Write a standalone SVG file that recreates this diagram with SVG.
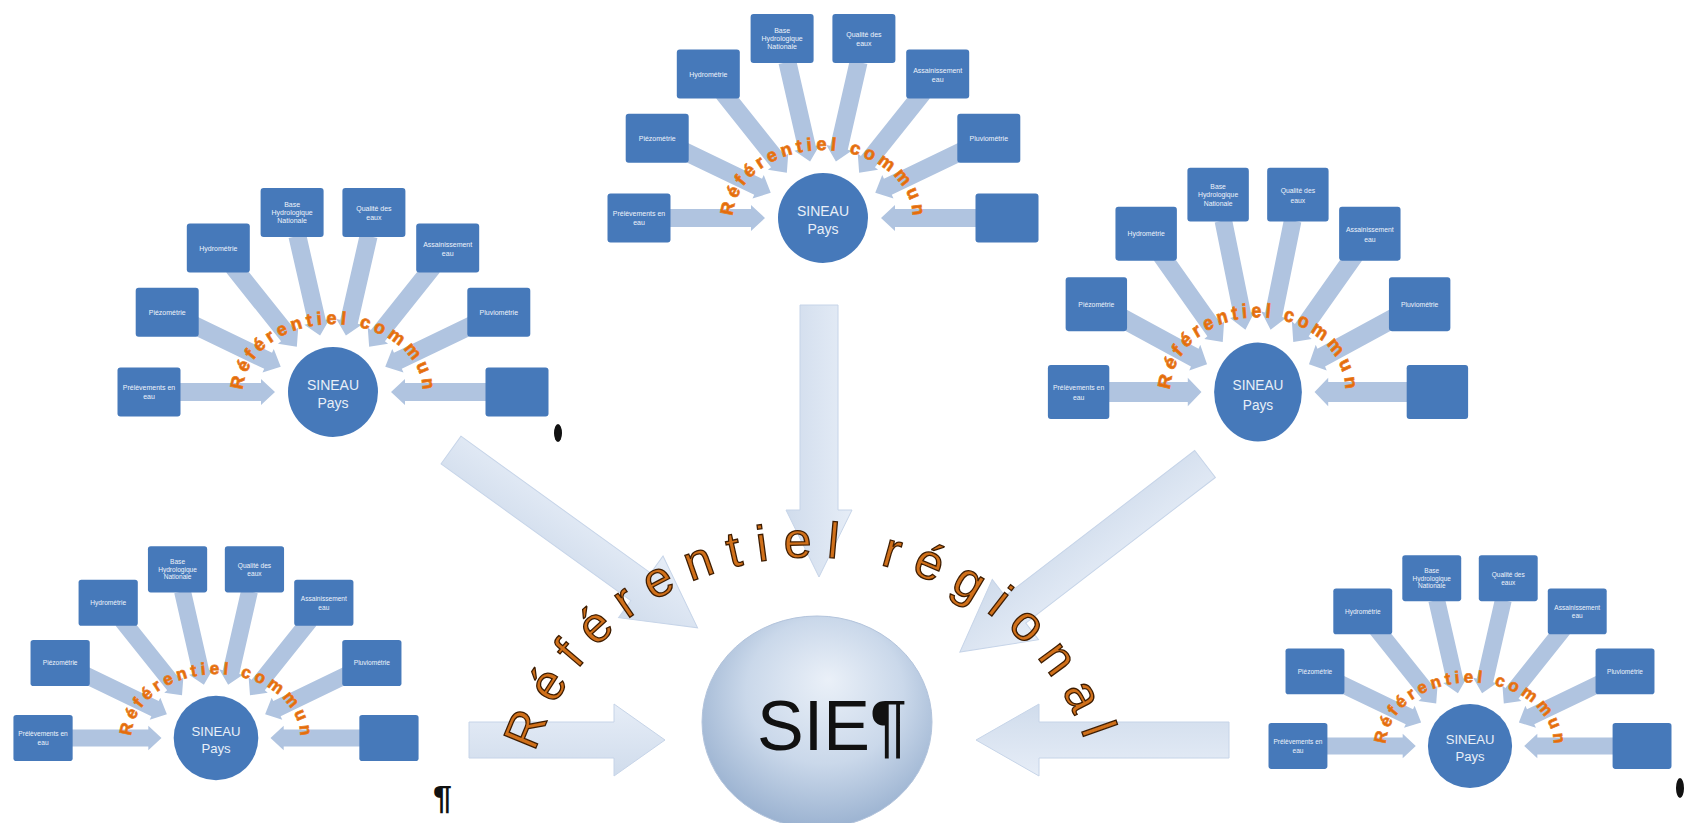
<svg xmlns="http://www.w3.org/2000/svg" xmlns:xlink="http://www.w3.org/1999/xlink" width="1690" height="823" viewBox="0 0 1690 823">
<defs>
<style>
.box{fill:#4679ba;}
.hub{fill:#4679ba;}
.bt{font-family:"Liberation Sans",Arial,sans-serif;font-size:7px;fill:#eef3fa;text-anchor:middle;}
.hubt{font-family:"Liberation Sans",Arial,sans-serif;font-size:14px;fill:#e8eff8;text-anchor:middle;}
.arc{font-family:"Liberation Sans",Arial,sans-serif;font-size:18px;font-weight:bold;fill:#e46c0a;stroke:#e87a20;stroke-width:0.8;letter-spacing:4.2px;}
.sa{fill:#b0c4e0;}
.big{fill:url(#bigGrad);stroke:#c6d4e8;stroke-width:1;}
.reg{font-family:"Liberation Sans",Arial,sans-serif;font-size:50px;fill:#d0701a;stroke:#3d1c00;stroke-width:1.3;letter-spacing:14.6px;}
.sie{font-family:"Liberation Sans",Arial,sans-serif;font-size:70px;fill:#111;}
</style>
<linearGradient id="bigGrad" x1="0" y1="0" x2="0" y2="1">
<stop offset="0" stop-color="#e6edf7"/>
<stop offset="1" stop-color="#d0dcec"/>
</linearGradient>
<radialGradient id="sieGrad" cx="0.52" cy="0.4" r="0.62" fx="0.55" fy="0.3">
<stop offset="0" stop-color="#eaf0f8"/>
<stop offset="0.55" stop-color="#cad8ea"/>
<stop offset="1" stop-color="#98b0cf"/>
</radialGradient>
<polygon id="sa" class="sa" points="-160,-9 -72,-9 -72,-13 -58,0 -72,13 -72,9 -160,9"/>
<path id="arcT" d="M -90 0 A 90 68 0 0 1 90 0"/>
<path id="regArc" d="M 534.8 754.2 A 287 266 0 0 1 1097.9 846.2"/>
</defs>
<rect width="1690" height="823" fill="#ffffff"/>

<g id="main-connectors">
<polygon class="big" transform="translate(819,305) rotate(90)" points="0,-19 205,-19 205,-33 272,0 205,33 205,19 0,19"/>
<polygon class="big" transform="translate(451,450) rotate(35.8)" points="0,-17 234,-17 234,-38 304,0 234,38 234,17 0,17"/>
<polygon class="big" transform="translate(1205,464) rotate(142.5)" points="0,-17 239,-17 239,-38 309,0 239,38 239,17 0,17"/>
<polygon class="big" transform="translate(469,740)" points="0,-18 145,-18 145,-36 196,0 145,36 145,18 0,18"/>
<polygon class="big" transform="translate(1229,740) rotate(180)" points="0,-18 190,-18 190,-36 253,0 190,36 190,18 0,18"/>
</g>

<!-- Cluster: top -->
<g id="cluster-top" transform="translate(823,218)">
<g id="top-connectors">
<use xlink:href="#sa"/><use xlink:href="#sa" transform="rotate(25.714)"/><use xlink:href="#sa" transform="rotate(51.429)"/><use xlink:href="#sa" transform="rotate(77.143)"/><use xlink:href="#sa" transform="rotate(102.857)"/><use xlink:href="#sa" transform="rotate(128.571)"/><use xlink:href="#sa" transform="rotate(154.286)"/><use xlink:href="#sa" transform="rotate(180)"/>
</g>
<g id="top-hub"><circle class="hub" r="45"/><text class="hubt" y="-2">SINEAU</text><text class="hubt" y="16">Pays</text></g>
<g id="top-b1"><rect class="box" x="-215.5" y="-24.5" width="63" height="49" rx="3"/><text class="bt"><tspan x="-184" y="-2">Prélèvements en</tspan><tspan x="-184" y="7">eau</tspan></text></g>
<g id="top-b2"><rect class="box" x="-197.3" y="-104.3" width="63" height="49" rx="3"/><text class="bt" x="-165.8" y="-77.3">Piézométrie</text></g>
<g id="top-b3"><rect class="box" x="-146.2" y="-168.4" width="63" height="49" rx="3"/><text class="bt" x="-114.7" y="-141.4">Hydrométrie</text></g>
<g id="top-b4"><rect class="box" x="-72.4" y="-203.9" width="63" height="49" rx="3"/><text class="bt"><tspan x="-40.9" y="-184.9">Base</tspan><tspan x="-40.9" y="-176.9">Hydrologique</tspan><tspan x="-40.9" y="-168.9">Nationale</tspan></text></g>
<g id="top-b5"><rect class="box" x="9.4" y="-203.9" width="63" height="49" rx="3"/><text class="bt"><tspan x="40.9" y="-180.9">Qualité des</tspan><tspan x="40.9" y="-171.9">eaux</tspan></text></g>
<g id="top-b6"><rect class="box" x="83.2" y="-168.4" width="63" height="49" rx="3"/><text class="bt"><tspan x="114.7" y="-145.4">Assainissement</tspan><tspan x="114.7" y="-136.4">eau</tspan></text></g>
<g id="top-b7"><rect class="box" x="134.3" y="-104.3" width="63" height="49" rx="3"/><text class="bt" x="165.8" y="-77.3">Pluviométrie</text></g>
<g id="top-b8"><rect class="box" x="152.5" y="-24.5" width="63" height="49" rx="3"/></g>
<text class="arc"><textPath xlink:href="#arcT" startOffset="2">Référentiel commun</textPath></text>
</g>

<!-- Cluster: left -->
<g id="cluster-left" transform="translate(333,392)">
<g id="left-connectors">
<use xlink:href="#sa"/><use xlink:href="#sa" transform="rotate(25.714)"/><use xlink:href="#sa" transform="rotate(51.429)"/><use xlink:href="#sa" transform="rotate(77.143)"/><use xlink:href="#sa" transform="rotate(102.857)"/><use xlink:href="#sa" transform="rotate(128.571)"/><use xlink:href="#sa" transform="rotate(154.286)"/><use xlink:href="#sa" transform="rotate(180)"/>
</g>
<g id="left-hub"><circle class="hub" r="45"/><text class="hubt" y="-2">SINEAU</text><text class="hubt" y="16">Pays</text></g>
<g id="left-b1"><rect class="box" x="-215.5" y="-24.5" width="63" height="49" rx="3"/><text class="bt"><tspan x="-184" y="-2">Prélèvements en</tspan><tspan x="-184" y="7">eau</tspan></text></g>
<g id="left-b2"><rect class="box" x="-197.3" y="-104.3" width="63" height="49" rx="3"/><text class="bt" x="-165.8" y="-77.3">Piézométrie</text></g>
<g id="left-b3"><rect class="box" x="-146.2" y="-168.4" width="63" height="49" rx="3"/><text class="bt" x="-114.7" y="-141.4">Hydrométrie</text></g>
<g id="left-b4"><rect class="box" x="-72.4" y="-203.9" width="63" height="49" rx="3"/><text class="bt"><tspan x="-40.9" y="-184.9">Base</tspan><tspan x="-40.9" y="-176.9">Hydrologique</tspan><tspan x="-40.9" y="-168.9">Nationale</tspan></text></g>
<g id="left-b5"><rect class="box" x="9.4" y="-203.9" width="63" height="49" rx="3"/><text class="bt"><tspan x="40.9" y="-180.9">Qualité des</tspan><tspan x="40.9" y="-171.9">eaux</tspan></text></g>
<g id="left-b6"><rect class="box" x="83.2" y="-168.4" width="63" height="49" rx="3"/><text class="bt"><tspan x="114.7" y="-145.4">Assainissement</tspan><tspan x="114.7" y="-136.4">eau</tspan></text></g>
<g id="left-b7"><rect class="box" x="134.3" y="-104.3" width="63" height="49" rx="3"/><text class="bt" x="165.8" y="-77.3">Pluviométrie</text></g>
<g id="left-b8"><rect class="box" x="152.5" y="-24.5" width="63" height="49" rx="3"/></g>
<text class="arc"><textPath xlink:href="#arcT" startOffset="2">Référentiel commun</textPath></text>
</g>

<!-- Cluster: right -->
<g id="cluster-right" transform="translate(1258,392) scale(0.975,1.1)">
<g id="right-connectors">
<use xlink:href="#sa"/><use xlink:href="#sa" transform="rotate(25.714)"/><use xlink:href="#sa" transform="rotate(51.429)"/><use xlink:href="#sa" transform="rotate(77.143)"/><use xlink:href="#sa" transform="rotate(102.857)"/><use xlink:href="#sa" transform="rotate(128.571)"/><use xlink:href="#sa" transform="rotate(154.286)"/><use xlink:href="#sa" transform="rotate(180)"/>
</g>
<g id="right-hub"><circle class="hub" r="45"/><text class="hubt" y="-2">SINEAU</text><text class="hubt" y="16">Pays</text></g>
<g id="right-b1"><rect class="box" x="-215.5" y="-24.5" width="63" height="49" rx="3"/><text class="bt"><tspan x="-184" y="-2">Prélèvements en</tspan><tspan x="-184" y="7">eau</tspan></text></g>
<g id="right-b2"><rect class="box" x="-197.3" y="-104.3" width="63" height="49" rx="3"/><text class="bt" x="-165.8" y="-77.3">Piézométrie</text></g>
<g id="right-b3"><rect class="box" x="-146.2" y="-168.4" width="63" height="49" rx="3"/><text class="bt" x="-114.7" y="-141.4">Hydrométrie</text></g>
<g id="right-b4"><rect class="box" x="-72.4" y="-203.9" width="63" height="49" rx="3"/><text class="bt"><tspan x="-40.9" y="-184.9">Base</tspan><tspan x="-40.9" y="-176.9">Hydrologique</tspan><tspan x="-40.9" y="-168.9">Nationale</tspan></text></g>
<g id="right-b5"><rect class="box" x="9.4" y="-203.9" width="63" height="49" rx="3"/><text class="bt"><tspan x="40.9" y="-180.9">Qualité des</tspan><tspan x="40.9" y="-171.9">eaux</tspan></text></g>
<g id="right-b6"><rect class="box" x="83.2" y="-168.4" width="63" height="49" rx="3"/><text class="bt"><tspan x="114.7" y="-145.4">Assainissement</tspan><tspan x="114.7" y="-136.4">eau</tspan></text></g>
<g id="right-b7"><rect class="box" x="134.3" y="-104.3" width="63" height="49" rx="3"/><text class="bt" x="165.8" y="-77.3">Pluviométrie</text></g>
<g id="right-b8"><rect class="box" x="152.5" y="-24.5" width="63" height="49" rx="3"/></g>
<text class="arc"><textPath xlink:href="#arcT" startOffset="2">Référentiel commun</textPath></text>
</g>

<!-- Cluster: bottom-left -->
<g id="cluster-bottom-left" transform="translate(216,738) scale(0.94)">
<g id="bl-connectors">
<use xlink:href="#sa"/><use xlink:href="#sa" transform="rotate(25.714)"/><use xlink:href="#sa" transform="rotate(51.429)"/><use xlink:href="#sa" transform="rotate(77.143)"/><use xlink:href="#sa" transform="rotate(102.857)"/><use xlink:href="#sa" transform="rotate(128.571)"/><use xlink:href="#sa" transform="rotate(154.286)"/><use xlink:href="#sa" transform="rotate(180)"/>
</g>
<g id="bl-hub"><circle class="hub" r="45"/><text class="hubt" y="-2">SINEAU</text><text class="hubt" y="16">Pays</text></g>
<g id="bl-b1"><rect class="box" x="-215.5" y="-24.5" width="63" height="49" rx="3"/><text class="bt"><tspan x="-184" y="-2">Prélèvements en</tspan><tspan x="-184" y="7">eau</tspan></text></g>
<g id="bl-b2"><rect class="box" x="-197.3" y="-104.3" width="63" height="49" rx="3"/><text class="bt" x="-165.8" y="-77.3">Piézométrie</text></g>
<g id="bl-b3"><rect class="box" x="-146.2" y="-168.4" width="63" height="49" rx="3"/><text class="bt" x="-114.7" y="-141.4">Hydrométrie</text></g>
<g id="bl-b4"><rect class="box" x="-72.4" y="-203.9" width="63" height="49" rx="3"/><text class="bt"><tspan x="-40.9" y="-184.9">Base</tspan><tspan x="-40.9" y="-176.9">Hydrologique</tspan><tspan x="-40.9" y="-168.9">Nationale</tspan></text></g>
<g id="bl-b5"><rect class="box" x="9.4" y="-203.9" width="63" height="49" rx="3"/><text class="bt"><tspan x="40.9" y="-180.9">Qualité des</tspan><tspan x="40.9" y="-171.9">eaux</tspan></text></g>
<g id="bl-b6"><rect class="box" x="83.2" y="-168.4" width="63" height="49" rx="3"/><text class="bt"><tspan x="114.7" y="-145.4">Assainissement</tspan><tspan x="114.7" y="-136.4">eau</tspan></text></g>
<g id="bl-b7"><rect class="box" x="134.3" y="-104.3" width="63" height="49" rx="3"/><text class="bt" x="165.8" y="-77.3">Pluviométrie</text></g>
<g id="bl-b8"><rect class="box" x="152.5" y="-24.5" width="63" height="49" rx="3"/></g>
<text class="arc"><textPath xlink:href="#arcT" startOffset="2">Référentiel commun</textPath></text>
</g>

<!-- Cluster: bottom-right -->
<g id="cluster-bottom-right" transform="translate(1470,746) scale(0.935)">
<g id="br-connectors">
<use xlink:href="#sa"/><use xlink:href="#sa" transform="rotate(25.714)"/><use xlink:href="#sa" transform="rotate(51.429)"/><use xlink:href="#sa" transform="rotate(77.143)"/><use xlink:href="#sa" transform="rotate(102.857)"/><use xlink:href="#sa" transform="rotate(128.571)"/><use xlink:href="#sa" transform="rotate(154.286)"/><use xlink:href="#sa" transform="rotate(180)"/>
</g>
<g id="br-hub"><circle class="hub" r="45"/><text class="hubt" y="-2">SINEAU</text><text class="hubt" y="16">Pays</text></g>
<g id="br-b1"><rect class="box" x="-215.5" y="-24.5" width="63" height="49" rx="3"/><text class="bt"><tspan x="-184" y="-2">Prélèvements en</tspan><tspan x="-184" y="7">eau</tspan></text></g>
<g id="br-b2"><rect class="box" x="-197.3" y="-104.3" width="63" height="49" rx="3"/><text class="bt" x="-165.8" y="-77.3">Piézométrie</text></g>
<g id="br-b3"><rect class="box" x="-146.2" y="-168.4" width="63" height="49" rx="3"/><text class="bt" x="-114.7" y="-141.4">Hydrométrie</text></g>
<g id="br-b4"><rect class="box" x="-72.4" y="-203.9" width="63" height="49" rx="3"/><text class="bt"><tspan x="-40.9" y="-184.9">Base</tspan><tspan x="-40.9" y="-176.9">Hydrologique</tspan><tspan x="-40.9" y="-168.9">Nationale</tspan></text></g>
<g id="br-b5"><rect class="box" x="9.4" y="-203.9" width="63" height="49" rx="3"/><text class="bt"><tspan x="40.9" y="-180.9">Qualité des</tspan><tspan x="40.9" y="-171.9">eaux</tspan></text></g>
<g id="br-b6"><rect class="box" x="83.2" y="-168.4" width="63" height="49" rx="3"/><text class="bt"><tspan x="114.7" y="-145.4">Assainissement</tspan><tspan x="114.7" y="-136.4">eau</tspan></text></g>
<g id="br-b7"><rect class="box" x="134.3" y="-104.3" width="63" height="49" rx="3"/><text class="bt" x="165.8" y="-77.3">Pluviométrie</text></g>
<g id="br-b8"><rect class="box" x="152.5" y="-24.5" width="63" height="49" rx="3"/></g>
<text class="arc"><textPath xlink:href="#arcT" startOffset="2">Référentiel commun</textPath></text>
</g>

<!-- Central node -->
<g id="sie">
<ellipse cx="817" cy="722" rx="115" ry="106" fill="url(#sieGrad)" stroke="#b3c4dc" stroke-width="1"/>
<text class="sie" x="757" y="750">SIE¶</text>
</g>

<text class="reg"><textPath xlink:href="#regArc" startOffset="2">Référentiel régional</textPath></text>

<g id="marks">
<text x="433" y="809" font-family="Liberation Sans, Arial, sans-serif" font-size="34" font-weight="bold" fill="#111">¶</text>
<ellipse cx="558" cy="433" rx="4" ry="9" fill="#111"/>
<ellipse cx="1680" cy="788" rx="4" ry="10" fill="#111"/>
</g>
</svg>
